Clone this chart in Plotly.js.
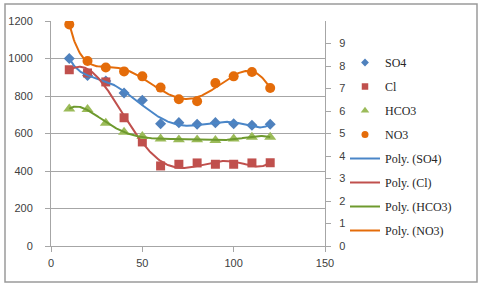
<!DOCTYPE html>
<html>
<head>
<meta charset="utf-8">
<script src="https://cdn.plot.ly/plotly-3.0.1.min.js"></script>
<style>
html,body{margin:0;padding:0;background:#fff;}
#chart{width:480px;height:287px;}
</style>
</head>
<body>
<div id="chart"></div>
<script>
// ---- data ----
const distance = [10, 20, 30, 40, 50, 60, 70, 80, 90, 100, 110, 120];
const so4  = [1000, 910, 880, 816, 777, 652, 658, 649, 658, 652, 644, 649];
const cl   = [940, 923, 875, 684, 555, 427, 436, 443, 436, 436, 443, 444];
const hco3 = [732, 729, 656, 608, 585, 572, 567, 567, 564, 572, 581, 581];
const no3  = [9.85, 8.22, 7.93, 7.76, 7.54, 7.04, 6.52, 6.43, 7.24, 7.54, 7.73, 7.02];
const xTicks = [0, 50, 100, 150];
const yLeftTicks = [0, 200, 400, 600, 800, 1000, 1200];
const yRightTicks = [0, 1, 2, 3, 4, 5, 6, 7, 8, 9];
const seriesNames = ['SO4', 'Cl', 'HCO3', 'NO3'];

// ---- polynomial trendline (least squares, like Excel "Poly.") ----
function polyFit(xs, ys, order) {
  const xm = (Math.min(...xs) + Math.max(...xs)) / 2;
  const xs2 = (Math.max(...xs) - Math.min(...xs)) / 2;
  const n = order + 1;
  const A = Array.from({length: n}, () => new Array(n + 1).fill(0));
  xs.forEach((x, k) => {
    const t = (x - xm) / xs2;
    const p = [];
    for (let i = 0; i < n; i++) p.push(Math.pow(t, i));
    for (let i = 0; i < n; i++) {
      for (let j = 0; j < n; j++) A[i][j] += p[i] * p[j];
      A[i][n] += p[i] * ys[k];
    }
  });
  for (let c = 0; c < n; c++) {
    let piv = c;
    for (let r = c + 1; r < n; r++) if (Math.abs(A[r][c]) > Math.abs(A[piv][c])) piv = r;
    [A[c], A[piv]] = [A[piv], A[c]];
    for (let r = 0; r < n; r++) {
      if (r === c) continue;
      const f = A[r][c] / A[c][c];
      for (let j = c; j <= n; j++) A[r][j] -= f * A[c][j];
    }
  }
  const coef = A.map((row, i) => row[n] / row[i]);
  return x => {
    const t = (x - xm) / xs2;
    let s = 0;
    for (let i = 0; i < n; i++) s += coef[i] * Math.pow(t, i);
    return s;
  };
}
function trend(ys) {
  const f = polyFit(distance, ys, 6);
  const xs = [], yv = [];
  const x0 = distance[0], x1 = distance[distance.length - 1];
  for (let i = 0; i <= 220; i++) {
    const x = x0 + (x1 - x0) * i / 220;
    xs.push(x); yv.push(f(x));
  }
  return {x: xs, y: yv};
}

const markerCols = ['#4F81BD', '#C0504D', '#9BBB59', '#E46C0A'];
const lineCols   = ['#4A86C8', '#C0504D', '#6E9A2E', '#E46C0A'];
const symbols    = ['diamond', 'square', 'triangle-up', 'circle'];
const sizes      = [8.5, 9, 10.5, 10];
const legSizes   = [6, 6.5, 7.5, 7];
const allY = [so4, cl, hco3, no3];

const traces = [];
// plotted markers (legend shown by the small legend-only entries below)
allY.forEach((ys, i) => {
  traces.push({
    x: distance, y: ys, type: 'scatter', mode: 'markers', name: seriesNames[i],
    yaxis: i === 3 ? 'y2' : 'y', showlegend: false,
    marker: {symbol: symbols[i], size: sizes[i], color: markerCols[i]}
  });
});
// legend entries for markers (small symbols as in the reference)
allY.forEach((ys, i) => {
  traces.push({
    x: [null], y: [null], type: 'scatter', mode: 'markers', name: seriesNames[i],
    yaxis: i === 3 ? 'y2' : 'y', legendgroup: 'm' + i,
    marker: {symbol: symbols[i], size: legSizes[i], color: markerCols[i]}
  });
});
allY.forEach((ys, i) => {
  const t = trend(ys);
  traces.push({
    x: t.x, y: t.y, type: 'scatter', mode: 'lines', name: 'Poly. (' + seriesNames[i] + ')',
    yaxis: i === 3 ? 'y2' : 'y', legendgroup: 'l' + i,
    line: {color: lineCols[i], width: 2}, hoverinfo: 'skip'
  });
});

const tickFont = {family: 'Liberation Sans, Arial, sans-serif', size: 11, color: '#404040'};
const W = 274, H = 225, L = 51, T = 21;
const layout = {
  width: 480, height: 287,
  margin: {l: L, r: 480 - L - W, t: T, b: 287 - T - H},
  paper_bgcolor: '#fff', plot_bgcolor: '#fff',
  showlegend: true,
  legend: {
    x: (345 - L) / W, xanchor: 'left', y: (T + H - 48) / H, yanchor: 'top',
    font: {family: 'Liberation Serif, Times New Roman, serif', size: 12, color: '#262626'},
    traceorder: 'grouped', tracegroupgap: 5, bgcolor: 'rgba(0,0,0,0)'
  },
  xaxis: {
    range: [0, 150], tickvals: xTicks, showgrid: false, zeroline: false,
    showline: true, linecolor: '#A6A6A6', linewidth: 1, ticklabelstandoff: 2,
    ticks: 'outside', ticklen: 5, tickcolor: '#A6A6A6', tickfont: tickFont
  },
  yaxis: {
    range: [0, 1200], tickvals: yLeftTicks, showgrid: true, gridcolor: '#A6A6A6', gridwidth: 1,
    zeroline: false, showline: true, linecolor: '#A6A6A6', linewidth: 1, ticklabelstandoff: 10,
    ticks: 'outside', ticklen: 5, tickcolor: '#A6A6A6', tickfont: tickFont
  },
  yaxis2: {
    range: [0, 10], tickvals: yRightTicks, overlaying: 'y', side: 'right',
    showgrid: false, zeroline: false, showline: true, linecolor: '#A6A6A6', linewidth: 1,
    ticklabelstandoff: 6,
    ticks: 'outside', ticklen: 5, tickcolor: '#A6A6A6', tickfont: tickFont
  },
  shapes: [{
    type: 'rect', xref: 'paper', yref: 'paper',
    x0: (5 - L) / W, x1: (477 - L) / W, y0: (T + H - 282) / H, y1: (T + H - 4) / H,
    line: {color: '#9A9A9A', width: 1.5}, fillcolor: 'rgba(0,0,0,0)', layer: 'below'
  }]
};

Plotly.newPlot('chart', traces, layout, {displayModeBar: false, staticPlot: true});
</script>
</body>
</html>
